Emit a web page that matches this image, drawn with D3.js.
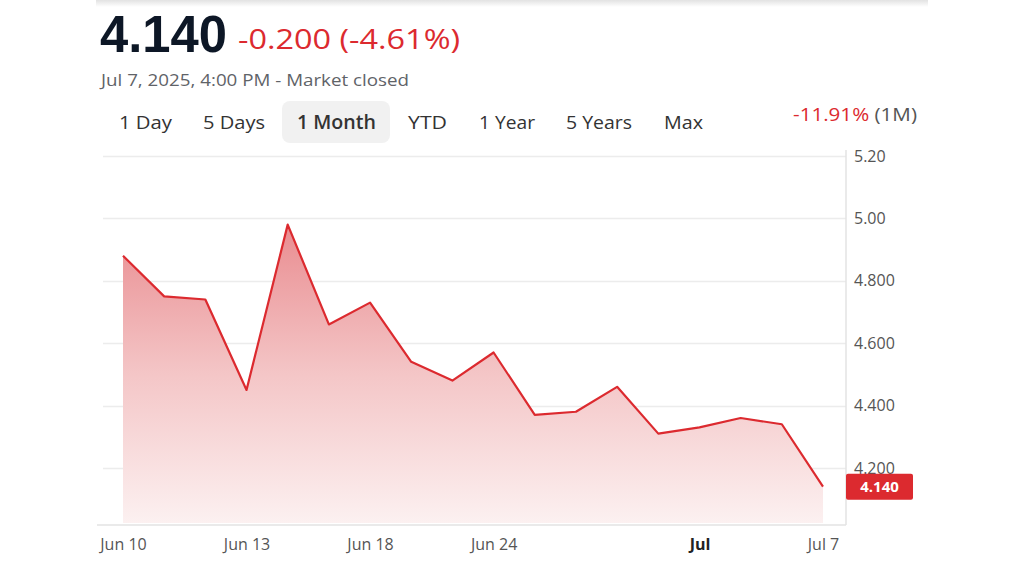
<!DOCTYPE html>
<html>
<head>
<meta charset="utf-8">
<script src="https://cdn.jsdelivr.net/npm/d3@7"></script>
<style>
  body { margin: 0; background: #fff; }
  svg { display: block; font-family: "Open Sans", "Liberation Sans", sans-serif; }
</style>
</head>
<body>
<svg width="1024" height="576"></svg>
<script>
// trading days, Jun 10 -> Jul 7 2025
const DATES = ["2025-06-10","2025-06-11","2025-06-12","2025-06-13","2025-06-16","2025-06-17",
  "2025-06-18","2025-06-20","2025-06-23","2025-06-24","2025-06-25","2025-06-26","2025-06-27",
  "2025-06-30","2025-07-01","2025-07-02","2025-07-03","2025-07-07"];
const PRICES = [4.88, 4.75, 4.74, 4.45, 4.98, 4.66, 4.73, 4.54, 4.48, 4.57, 4.37, 4.38, 4.46,
  4.31, 4.33, 4.36, 4.34, 4.14];
const Y_TICKS = [5.2, 5.0, 4.8, 4.6, 4.4, 4.2];
const Y_TICK_LABELS = ["5.20", "5.00", "4.800", "4.600", "4.400", "4.200"];
const X_TICKS = ["2025-06-10", "2025-06-13", "2025-06-18", "2025-06-24", "2025-07-01", "2025-07-07"];
const X_TICK_LABELS = ["Jun 10", "Jun 13", "Jun 18", "Jun 24", "Jul", "Jul 7"];
const RANGES = ["1 Day", "5 Days", "1 Month", "YTD", "1 Year", "5 Years", "Max"];

const RED = '#dc2a2f';
const svg = d3.select('svg');

// top shadow strip
const defs = svg.append('defs');
const sh = defs.append('linearGradient').attr('id', 'shadow').attr('x1', 0).attr('x2', 0).attr('y1', 0).attr('y2', 1);
sh.append('stop').attr('offset', 0).attr('stop-color', '#e2e2e2');
sh.append('stop').attr('offset', 1).attr('stop-color', '#ffffff');
svg.append('rect').attr('x', 96).attr('y', 0).attr('width', 832).attr('height', 7).attr('fill', 'url(#shadow)');

// header
svg.append('text').attr('x', 100).attr('y', 52)
  .attr('font-family', 'Liberation Sans, Arial, sans-serif')
  .attr('font-size', 51).attr('font-weight', 'bold').attr('fill', '#0d1726')
  .attr('textLength', 127).attr('lengthAdjust', 'spacingAndGlyphs')
  .text('4.140');
svg.append('text').attr('x', 238).attr('y', 49)
  .attr('font-size', 28).attr('fill', RED)
  .attr('textLength', 222).attr('lengthAdjust', 'spacingAndGlyphs')
  .text('-0.200 (-4.61%)');
svg.append('text').attr('x', 101).attr('y', 86)
  .attr('font-size', 16).attr('fill', '#5f6368')
  .attr('textLength', 308).attr('lengthAdjust', 'spacingAndGlyphs')
  .text('Jul 7, 2025, 4:00 PM - Market closed');

// range tabs
const tabX = [119, 203, 297, 408, 479, 566, 664];
const tabW = [53, 62, 79, 39, 56, 66, 39];
svg.append('rect').attr('x', 282).attr('y', 101).attr('width', 108).attr('height', 42)
  .attr('rx', 8).attr('fill', '#f1f1f1');
svg.selectAll('.tab').data(RANGES).enter().append('text')
  .attr('class', 'tab')
  .attr('x', (d, i) => tabX[i]).attr('y', 129)
  .attr('font-size', 19)
  .attr('font-weight', d => d === '1 Month' ? 600 : 400)
  .attr('fill', '#333')
  .attr('textLength', (d, i) => tabW[i]).attr('lengthAdjust', 'spacingAndGlyphs')
  .text(d => d);

const chg = svg.append('text').attr('x', 917).attr('y', 121).attr('text-anchor', 'end').attr('font-size', 19)
  .attr('textLength', 124).attr('lengthAdjust', 'spacingAndGlyphs');
chg.append('tspan').attr('fill', RED).text('-11.91%');
chg.append('tspan').attr('fill', '#555').text(' (1M)');

// scales
const x = d3.scalePoint().domain(DATES).range([123, 823]);
const y = d3.scaleLinear().domain([4.017, 5.2]).range([525, 156]);

// gridlines
svg.append('g').selectAll('line').data(Y_TICKS).enter().append('line')
  .attr('x1', 103).attr('x2', 846)
  .attr('y1', d => Math.round(y(d)) + 0.5).attr('y2', d => Math.round(y(d)) + 0.5)
  .attr('stroke', '#ececec').attr('stroke-width', 1.5);

// area gradient
const ag = defs.append('linearGradient').attr('id', 'areaFill')
  .attr('gradientUnits', 'userSpaceOnUse').attr('x1', 0).attr('x2', 0)
  .attr('y1', y(4.98)).attr('y2', 525);
ag.append('stop').attr('offset', 0).attr('stop-color', '#e98c90');
ag.append('stop').attr('offset', 0.5).attr('stop-color', '#f4c6c7');
ag.append('stop').attr('offset', 1).attr('stop-color', '#fcf1f1');

const data = DATES.map((d, i) => ({date: d, price: PRICES[i]}));

svg.append('path').datum(data)
  .attr('d', d3.area().x(d => x(d.date)).y0(523).y1(d => y(d.price)))
  .attr('fill', 'url(#areaFill)');

svg.append('path').datum(data)
  .attr('d', d3.line().x(d => x(d.date)).y(d => y(d.price)))
  .attr('fill', 'none').attr('stroke', RED).attr('stroke-width', 2.2)
  .attr('stroke-linejoin', 'round');

// bottom + right axis lines
svg.append('line').attr('x1', 97).attr('x2', 846).attr('y1', 525).attr('y2', 525)
  .attr('stroke', '#e3e3e3').attr('stroke-width', 1.5);
svg.append('line').attr('x1', 846).attr('x2', 846).attr('y1', 150).attr('y2', 525)
  .attr('stroke', '#e3e3e3').attr('stroke-width', 1.5);

// y axis labels
const yAxis = svg.append('g').attr('transform', 'translate(846,0)')
  .call(d3.axisRight(y).tickValues(Y_TICKS).tickSize(0).tickPadding(8)
    .tickFormat((d, i) => Y_TICK_LABELS[i]));
yAxis.select('.domain').remove();
yAxis.selectAll('text').attr('font-size', 16).attr('fill', '#555')
  .attr('font-family', '"Open Sans", sans-serif');

// x axis labels
const xAxis = svg.append('g').attr('transform', 'translate(0,525)')
  .call(d3.axisBottom(x).tickValues(X_TICKS).tickSize(0).tickPadding(14)
    .tickFormat((d, i) => X_TICK_LABELS[i]));
xAxis.select('.domain').remove();
xAxis.selectAll('text').attr('font-size', 16).attr('fill', '#555')
  .attr('font-family', '"Open Sans", sans-serif')
  .attr('font-weight', (d, i) => X_TICK_LABELS[i] === 'Jul' ? 'bold' : 'normal')
  .attr('fill', (d, i) => X_TICK_LABELS[i] === 'Jul' ? '#222' : '#555');

// last price tag
const last = PRICES[PRICES.length - 1];
svg.append('rect').attr('x', 846).attr('y', y(last) - 13).attr('width', 67).attr('height', 26)
  .attr('rx', 2).attr('fill', RED);
svg.append('text').attr('x', 879.5).attr('y', y(last) + 5.5)
  .attr('text-anchor', 'middle').attr('font-size', 15).attr('font-weight', 'bold')
  .attr('fill', '#fff').text(last.toFixed(3));
</script>
</body>
</html>
